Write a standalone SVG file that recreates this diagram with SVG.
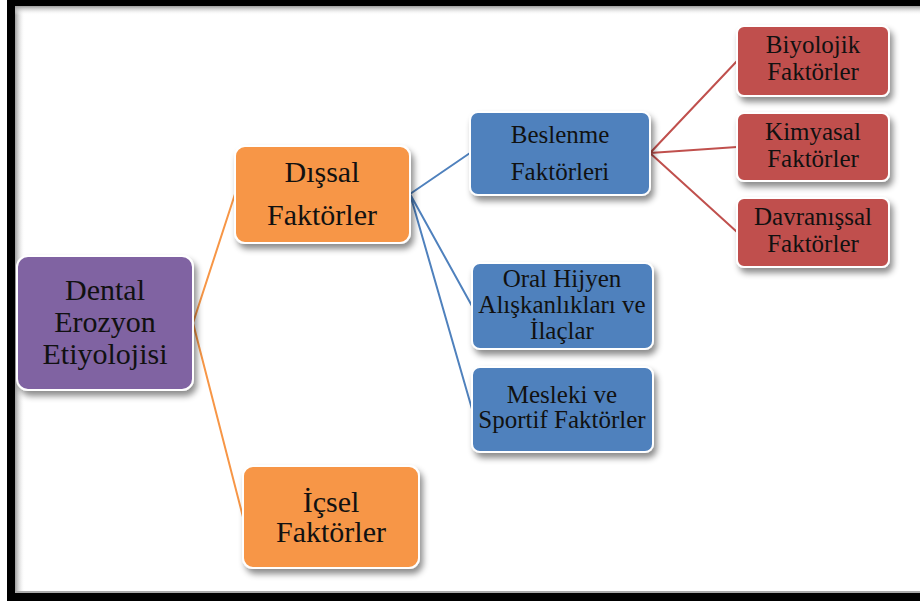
<svg xmlns="http://www.w3.org/2000/svg" width="920" height="602" viewBox="0 0 920 602">
<defs>
<linearGradient id="gl" x1="0" y1="0" x2="1" y2="0"><stop offset="0" stop-color="#9a9a9a"/><stop offset="1" stop-color="#ffffff" stop-opacity="0"/></linearGradient>
<linearGradient id="gt" x1="0" y1="0" x2="0" y2="1"><stop offset="0" stop-color="#9a9a9a"/><stop offset="1" stop-color="#ffffff" stop-opacity="0"/></linearGradient>
<filter id="sh" x="-20%" y="-20%" width="140%" height="150%"><feDropShadow dx="3" dy="5" stdDeviation="3" flood-color="#000" flood-opacity="0.45"/></filter>
</defs>
<style>
.box{stroke:#fff;stroke-width:2;filter:url(#sh)}
.pu{fill:#8064A2}.or{fill:#F79646}.bl{fill:#4F81BD}.rd{fill:#C0504D}
text{font-family:"Liberation Serif","Times New Roman",serif;fill:#111;text-anchor:middle}
.l1{font-size:30px}.l2{font-size:25px}
.co{fill:none;stroke-width:2}
</style>
<rect x="0" y="0" width="920" height="602" fill="#fff"/>
<g id="frame">
<rect x="15" y="6" width="10" height="587" fill="url(#gl)"/>
<rect x="15" y="6" width="905" height="9" fill="url(#gt)"/>
<rect x="7" y="0" width="8" height="601" fill="#000"/>
<rect x="7" y="0" width="913" height="6" fill="#000"/>
<rect x="7" y="593" width="913" height="8" fill="#000"/>
<rect x="15" y="591" width="905" height="2" fill="#aaa"/>
</g>
<g id="connectors">
<path class="co" stroke="#F79646" d="M193 323 L235 194 M193 323 L243 517"/>
<path class="co" stroke="#4F81BD" d="M410 194 L470 153 M410 194 L472 306 M410 194 L472 409"/>
<path class="co" stroke="#C0504D" d="M650 153 L737 61 M650 153 L737 147 M650 153 L737 232"/>
</g>
<g id="n-dental">
<rect class="box pu" x="17" y="256" width="176" height="134" rx="11"/>
<text class="l1" x="105" y="300">Dental</text>
<text class="l1" x="105" y="332">Erozyon</text>
<text class="l1" x="105" y="364">Etiyolojisi</text>
</g>
<g id="n-dissal">
<rect class="box or" x="235" y="146" width="175" height="97" rx="10"/>
<text class="l1" x="322" y="182">Dışsal</text>
<text class="l1" x="322" y="225">Faktörler</text>
</g>
<g id="n-icsel">
<rect class="box or" x="243" y="466" width="176" height="102" rx="10"/>
<text class="l1" x="331" y="512">İçsel</text>
<text class="l1" x="331" y="542">Faktörler</text>
</g>
<g id="n-beslenme">
<rect class="box bl" x="470" y="112" width="180" height="83" rx="8"/>
<text class="l2" x="560" y="143">Beslenme</text>
<text class="l2" x="560" y="180">Faktörleri</text>
</g>
<g id="n-oral">
<rect class="box bl" x="472" y="263" width="181" height="86" rx="8"/>
<text class="l2" x="562" y="287">Oral Hijyen</text>
<text class="l2" x="562" y="313">Alışkanlıkları ve</text>
<text class="l2" x="562" y="339">İlaçlar</text>
</g>
<g id="n-mesleki">
<rect class="box bl" x="472" y="367" width="181" height="85" rx="8"/>
<text class="l2" x="562" y="403">Mesleki ve</text>
<text class="l2" x="562" y="428">Sportif Faktörler</text>
</g>
<g id="n-biyolojik">
<rect class="box rd" x="737" y="26" width="152" height="70" rx="7"/>
<text class="l2" x="813" y="53">Biyolojik</text>
<text class="l2" x="813" y="80">Faktörler</text>
</g>
<g id="n-kimyasal">
<rect class="box rd" x="737" y="113" width="152" height="68" rx="7"/>
<text class="l2" x="813" y="140">Kimyasal</text>
<text class="l2" x="813" y="167">Faktörler</text>
</g>
<g id="n-davranissal">
<rect class="box rd" x="737" y="198" width="152" height="69" rx="7"/>
<text class="l2" x="813" y="225">Davranışsal</text>
<text class="l2" x="813" y="252">Faktörler</text>
</g>
</svg>
